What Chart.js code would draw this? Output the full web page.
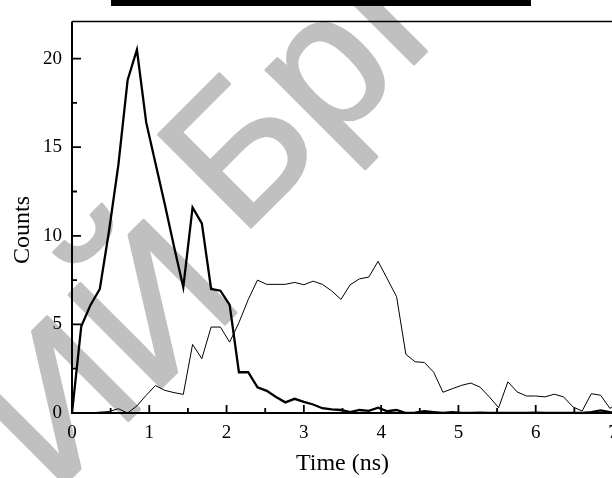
<!DOCTYPE html>
<html>
<head>
<meta charset="utf-8">
<script src="https://cdn.jsdelivr.net/npm/chart.js@4.4.1/dist/chart.umd.min.js"></script>
<style>
  html, body { margin: 0; padding: 0; background: #fff; overflow: hidden; width: 612px; height: 478px; }
  #wrap { position: relative; width: 630px; height: 478px; }
  #topBar { position: absolute; left: 111px; top: 0; width: 420px; height: 6px; background: #000; }
  #yTitle { position: absolute; left: 21px; top: 230px; transform: translate(-50%, -50%) rotate(-90deg);
            font: 24px 'Liberation Serif', 'Times New Roman', serif; color: #000; white-space: nowrap; line-height: 1; }
</style>
</head>
<body>
<div id="wrap">
  <canvas id="chart" width="630" height="478"></canvas>
  <div id="topBar"></div>
  <div id="yTitle">Counts</div>
</div>
<script>
/* ===== DATA ===== */
const timeNs = [0, 0.12, 0.24, 0.36, 0.48, 0.60, 0.72, 0.84, 0.96, 1.08,
  1.20, 1.32, 1.44, 1.56, 1.68, 1.80, 1.92, 2.04, 2.16, 2.28,
  2.40, 2.52, 2.64, 2.76, 2.88, 3.00, 3.12, 3.24, 3.36, 3.48,
  3.60, 3.72, 3.84, 3.96, 4.08, 4.20, 4.32, 4.44, 4.56, 4.68,
  4.80, 4.92, 5.04, 5.16, 5.28, 5.40, 5.52, 5.64, 5.76, 5.88,
  6.00, 6.12, 6.24, 6.36, 6.48, 6.60, 6.72, 6.84, 6.96, 7.08];

// thick curve
const fastCounts = [0, 4.9, 6.1, 7.0, 10.3, 14.0, 18.8, 20.5, 16.4, 14.1,
  11.8, 9.4, 7.1, 11.6, 10.7, 7.0, 6.9, 6.1, 2.3, 2.3,
  1.45, 1.25, 0.9, 0.6, 0.8, 0.63, 0.48, 0.27, 0.2, 0.17,
  0.05, 0.17, 0.12, 0.3, 0.1, 0.17, 0, 0.02, 0.1, 0.05,
  0, 0.05, 0, 0, 0.02, 0, 0, 0, 0, 0,
  0.02, 0, 0, 0, 0, 0, 0.05, 0.15, 0.05, 0];

// thin curve
const slowCounts = [0, 0, 0, 0.05, 0.08, 0.24, 0, 0.4, 1.0, 1.55,
  1.28, 1.15, 1.05, 3.87, 3.07, 4.85, 4.85, 4.0, 5.1, 6.4,
  7.5, 7.26, 7.26, 7.26, 7.37, 7.24, 7.44, 7.26, 6.89, 6.41,
  7.24, 7.57, 7.67, 8.56, 7.57, 6.56, 3.31, 2.89, 2.85, 2.3,
  1.17, 1.37, 1.56, 1.69, 1.46, 0.91, 0.3, 1.76, 1.19, 0.96,
  0.96, 0.91, 1.06, 0.91, 0.35, 0.11, 1.09, 1.0, 0.26, 0.6];

const xTicks = [0, 1, 2, 3, 4, 5, 6, 7];
const yTicks = [0, 5, 10, 15, 20];
const Y_MAX = 22.1;

const SERIF = "'Liberation Serif', 'Times New Roman', serif";

/* ===== WATERMARK (under everything) ===== */
const watermark = {
  id: 'watermark',
  beforeDraw(chart) {
    const ctx = chart.ctx;
    ctx.save();
    ctx.fillStyle = ctx.strokeStyle = '#c0c0c0';
    ctx.lineWidth = 3;
    ctx.lineJoin = 'round';
    ctx.font = "190px 'Liberation Sans', Arial, sans-serif";
    ctx.textBaseline = 'alphabetic';
    ctx.translate(240, 238);
    ctx.rotate(-Math.PI / 4);
    ctx.textAlign = 'left';
    ctx.fillText('БрГУ', 0, 0);
    ctx.strokeText('БрГУ', 0, 0);
    ctx.textAlign = 'right';
    ctx.fillText('ОРИЙ', -40, 50);
    ctx.strokeText('ОРИЙ', -40, 50);
    ctx.restore();
  }
};

/* ===== FRAME + INWARD TICKS ===== */
const axisFrame = {
  id: 'axisFrame',
  afterDatasetsDraw(chart) {
    const { ctx, chartArea: a, scales: { x, y } } = chart;
    ctx.save();
    ctx.strokeStyle = '#000';
    ctx.lineCap = 'butt';

    ctx.lineWidth = 1.5;
    ctx.beginPath();
    ctx.moveTo(a.left, a.top);
    ctx.lineTo(a.right + 20, a.top);
    ctx.stroke();

    ctx.lineWidth = 2;
    ctx.beginPath();
    ctx.moveTo(a.left, a.top);
    ctx.lineTo(a.left, a.bottom);
    ctx.lineTo(a.right + 20, a.bottom);
    ctx.stroke();

    ctx.lineWidth = 1.8;
    ctx.beginPath();
    xTicks.forEach((v, i) => {
      const px = x.getPixelForValue(v);
      ctx.moveTo(px, a.bottom); ctx.lineTo(px, a.bottom - 8);
      if (i < xTicks.length - 1) {
        const mx = x.getPixelForValue((v + xTicks[i + 1]) / 2);
        ctx.moveTo(mx, a.bottom); ctx.lineTo(mx, a.bottom - 5);
      }
    });
    yTicks.forEach((v, i) => {
      const py = y.getPixelForValue(v);
      ctx.moveTo(a.left, py); ctx.lineTo(a.left + 9, py);
      const next = i < yTicks.length - 1 ? yTicks[i + 1] : v + 5;
      const mv = (v + next) / 2;
      if (mv < Y_MAX) {
        const my = y.getPixelForValue(mv);
        ctx.moveTo(a.left, my); ctx.lineTo(a.left + 5, my);
      }
    });
    ctx.stroke();
    ctx.restore();
  }
};

const toPoints = vals => timeNs.map((t, i) => ({ x: t, y: vals[i] }));

new Chart(document.getElementById('chart'), {
  type: 'line',
  data: {
    datasets: [
      { data: toPoints(slowCounts), borderColor: '#000', borderWidth: 1, pointRadius: 0, tension: 0, fill: false },
      { data: toPoints(fastCounts), borderColor: '#000', borderWidth: 2.3, pointRadius: 0, tension: 0, fill: false }
    ]
  },
  options: {
    responsive: false,
    animation: false,
    devicePixelRatio: 1,
    layout: { padding: { top: 16, right: 17, bottom: 0, left: 0 } },
    plugins: { legend: { display: false }, tooltip: { enabled: false } },
    scales: {
      x: {
        type: 'linear', min: 0, max: 7,
        afterFit(scale) { scale.height = 65; },
        grid: { display: false, drawTicks: false },
        border: { display: false },
        ticks: { stepSize: 1, autoSkip: false, maxRotation: 0, padding: 9, color: '#000',
                 font: { family: SERIF, size: 19 } },
        title: { display: true, text: 'Time (ns)', color: '#000', padding: { top: 0, bottom: 0 },
                 font: { family: SERIF, size: 24 } }
      },
      y: {
        type: 'linear', min: 0, max: Y_MAX,
        afterFit(scale) { scale.width = 72; },
        grid: { display: false, drawTicks: false },
        border: { display: false },
        ticks: { stepSize: 5, includeBounds: false, padding: 10, color: '#000',
                 font: { family: SERIF, size: 19 } },
        title: { display: false }
      }
    }
  },
  plugins: [watermark, axisFrame]
});
</script>
</body>
</html>
